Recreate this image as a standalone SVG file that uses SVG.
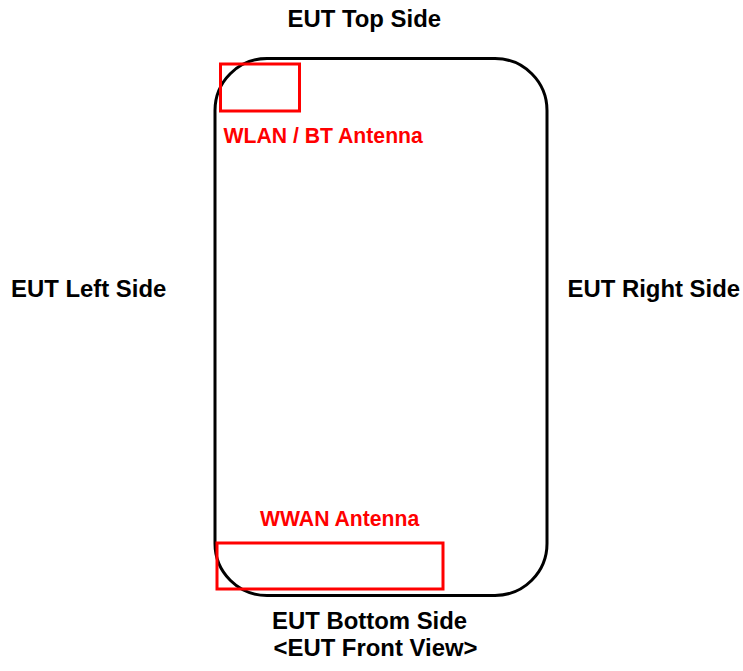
<svg xmlns="http://www.w3.org/2000/svg" width="743" height="671" viewBox="0 0 743 671">
  <style>
    .side { font-family: "Liberation Sans", Arial, sans-serif; font-weight: bold; font-size: 23.9px; fill: #000; }
    .ant { font-family: "Liberation Sans", Arial, sans-serif; font-weight: bold; font-size: 21.2px; fill: #ff0000; }
    .body { fill: none; stroke: #000; stroke-width: 3; }
    .zone { fill: none; stroke: #ff0000; stroke-width: 3; }
  </style>
  <rect width="743" height="671" fill="#fff"/>

  <!-- device outline -->
  <g id="eut">
    <rect class="body" x="215" y="58.5" width="332" height="537" rx="52" ry="52"/>
  </g>

  <!-- antenna areas -->
  <g id="wlan-bt-antenna">
    <rect class="zone" x="220.5" y="64" width="79" height="47"/>
    <text class="ant" x="223.5" y="143">WLAN / BT Antenna</text>
  </g>
  <g id="wwan-antenna">
    <rect class="zone" x="217" y="543" width="226" height="46"/>
    <text class="ant" x="260" y="526">WWAN Antenna</text>
  </g>

  <!-- side labels -->
  <g id="labels">
    <text class="side" x="287.5" y="27">EUT Top Side</text>
    <text class="side" x="11" y="297">EUT Left Side</text>
    <text class="side" x="567.5" y="297">EUT Right Side</text>
    <text class="side" x="272" y="629">EUT Bottom Side</text>
    <text class="side" x="273.5" y="656">&lt;EUT Front View&gt;</text>
  </g>
</svg>
